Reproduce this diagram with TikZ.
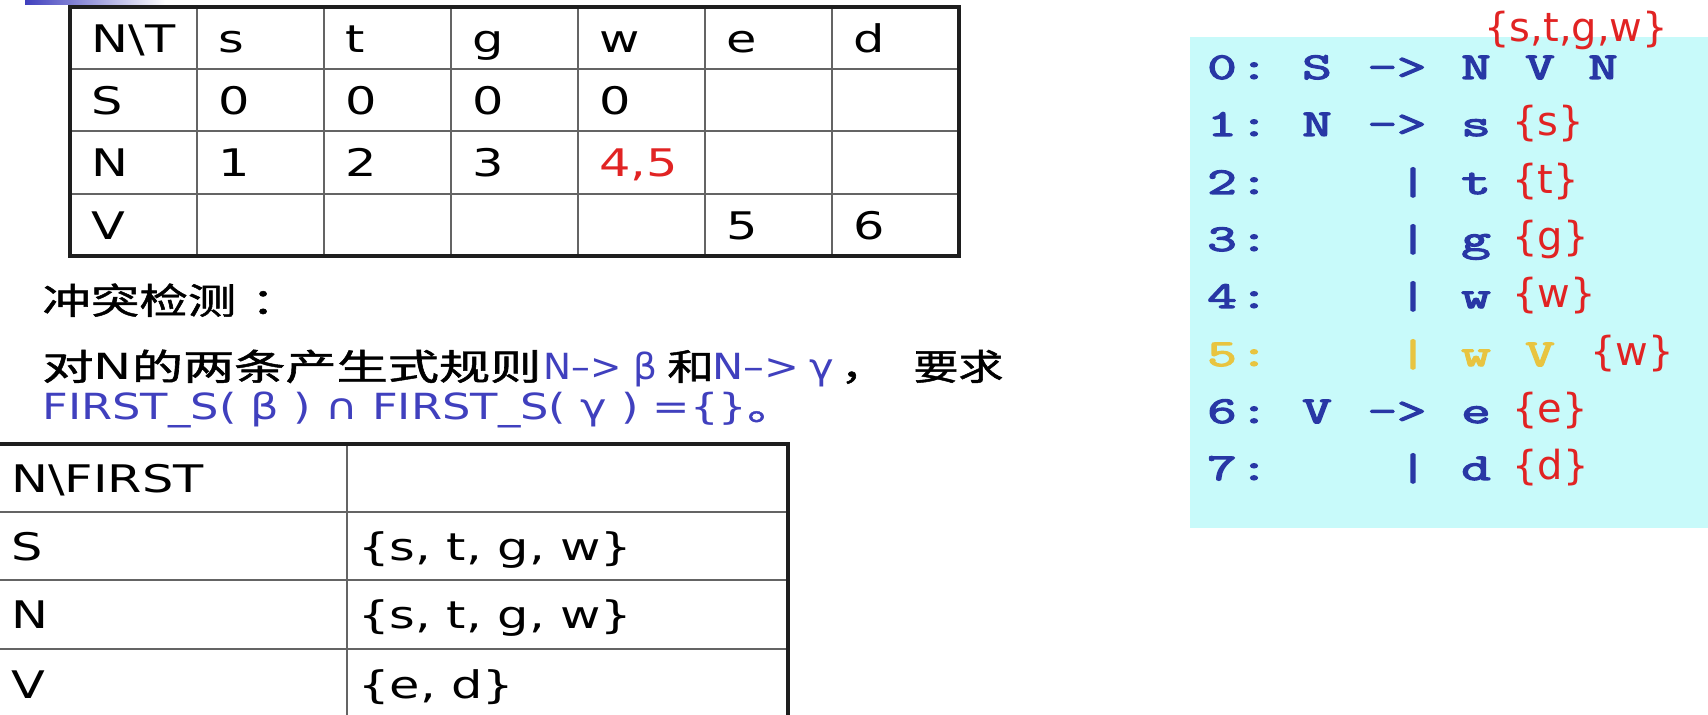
\documentclass[tikz,border=0pt]{standalone}
\usepackage{fontspec}
\setmainfont{DejaVu Sans}
\newfontfamily\cjk{Noto Sans CJK SC}[FakeBold=1.2]
\newfontfamily\codefont{Latin Modern Mono}[FakeBold=3]
\definecolor{tblue}{RGB}{64,64,190}
\definecolor{cblue}{RGB}{40,55,165}
\definecolor{cyel}{RGB}{232,196,64}
\definecolor{cred}{RGB}{225,35,35}
\definecolor{panelc}{RGB}{200,250,250}
\definecolor{innerc}{RGB}{100,100,100}
\definecolor{outerc}{RGB}{30,30,30}
\newcommand\hs[1]{\scalebox{1.3}[1]{#1}}
\newcommand\cs[1]{\scalebox{1.5}[1]{#1}}
\begin{document}
\begin{tikzpicture}[x=0.5pt,y=-0.5pt,
  cell/.style={anchor=base west,inner sep=0pt,font=\fontsize{19}{22}\selectfont},
  code/.style={anchor=base,inner sep=0pt,text=cblue,font=\codefont\fontsize{19}{22}\selectfont},
  ycode/.style={code,text=cyel},
  rset/.style={anchor=base west,inner sep=0pt,text=cred,font=\fontsize{20}{24}\selectfont},
  txt/.style={anchor=base west,inner sep=0pt,font=\fontsize{18}{22}\selectfont},
  inl/.style={innerc,line width=1pt},
  outl/.style={outerc,line width=1.6pt}]
\useasboundingbox (0,0) rectangle (1708,715);
\fill[white] (0,0) rectangle (1708,715);
% top-left decoration
\shade[left color=tblue,right color=white] (25,0) rectangle (165,5);
% ---------- top table ----------
\foreach \x in {197,324,451,578,705,832} \draw[inl] (\x,7) -- (\x,256);
\foreach \y in {69,131,194} \draw[inl] (70,\y) -- (959,\y);
\draw[outl] (70,7) rectangle (959,256);
\node[cell] (h0) at (91,53) {\hs{N\textbackslash T}};
\node[cell] (h1) at (218,53) {\hs{s}};
\node[cell] (h2) at (345,53) {\hs{t}};
\node[cell] (h3) at (472,53) {\hs{g}};
\node[cell] (h4) at (599,53) {\hs{w}};
\node[cell] (h5) at (726,53) {\hs{e}};
\node[cell] (h6) at (853,53) {\hs{d}};
\node[cell] (s0) at (91,115) {\hs{S}};
\node[cell] (s1) at (218,115) {\hs{0}};
\node[cell] (s2) at (345,115) {\hs{0}};
\node[cell] (s3) at (472,115) {\hs{0}};
\node[cell] (s4) at (599,115) {\hs{0}};
\node[cell] (n0) at (91,177) {\hs{N}};
\node[cell] (n1) at (218,177) {\hs{1}};
\node[cell] (n2) at (345,177) {\hs{2}};
\node[cell] (n3) at (472,177) {\hs{3}};
\node[cell,text=cred] (n4) at (599,177) {\hs{4,5}};
\node[cell] (v0) at (91,240) {\hs{V}};
\node[cell] (v5) at (726,240) {\hs{5}};
\node[cell] (v6) at (853,240) {\hs{6}};
% ---------- text lines ----------
\node[txt] (head) at (42,314) {\resizebox{97pt}{\height}{\cjk 冲突检测}};
\node[txt] (headc) at (251,314) {\hs{\cjk ：}};
\node[txt] (l2a) at (42,380) {\resizebox{249.5pt}{\height}{{\cjk 对}N{\cjk 的两条产生式规则}}};
\node[txt,text=tblue] (l2b) at (543,380) {\resizebox{57pt}{\height}{N–> β}};
\node[txt] (l2c) at (667,380) {\hs{\cjk 和}};
\node[txt,text=tblue] (l2d) at (712,380) {\resizebox{61pt}{\height}{N–>\hspace{0.25em}γ}};
\node[txt] (l2e) at (840,380) {\hs{\cjk ，}};
\node[txt] (l2f) at (913,380) {\resizebox{45pt}{\height}{\cjk 要求}};
\node[txt,text=tblue] (line3) at (42,420) {\resizebox{352.5pt}{\height}{FIRST\_S( β ) ∩ FIRST\_S( γ ) =\{\}}};
\node[txt,text=tblue] (line3e) at (747,420) {\hs{\cjk 。}};
% ---------- bottom table ----------
\draw[inl] (347,444) -- (347,717);
\foreach \y in {512,580,649} \draw[inl] (-5,\y) -- (788,\y);
\draw[outl] (-5,444) rectangle (788,717);
\node[cell] (b0) at (11,493) {\hs{N\textbackslash FIRST}};
\node[cell] (b1) at (11,561) {\hs{S}};
\node[cell] (b1v) at (358,561) {\hs{\{s, t, g, w\}}};
\node[cell] (b2) at (11,629) {\hs{N}};
\node[cell] (b2v) at (358,629) {\hs{\{s, t, g, w\}}};
\node[cell] (b3) at (11,698) {\hs{V}};
\node[cell] (b3v) at (358,698) {\hs{\{e, d\}}};
% ---------- grammar panel ----------
\fill[panelc] (1190,37) rectangle (1708,528);
% line 0
\node[code] (d0) at (1222,79) {\cs{0}};
\node[code] (k0) at (1254,79) {\cs{:}};
\node[code] (l0) at (1317,79) {\cs{S}};
\node[code] (a0) at (1397,79) {\cs{->}};
\node[code] (p0a) at (1476,79) {\cs{N}};
\node[code] (p0b) at (1540,79) {\cs{V}};
\node[code] (p0c) at (1603,79) {\cs{N}};
\node[rset] (f0) at (1484,42) {\{s,t,g,w\}};
% line 1
\node[code] (d1) at (1222,136) {\cs{1}};
\node[code] (k1) at (1254,136) {\cs{:}};
\node[code] (l1) at (1317,136) {\cs{N}};
\node[code] (a1) at (1397,136) {\cs{->}};
\node[code] (p1) at (1476,136) {\cs{s}};
\node[rset] (f1) at (1512,136) {\{s\}};
% line 2
\node[code] (d2) at (1222,194) {\cs{2}};
\node[code] (k2) at (1254,194) {\cs{:}};
\node[code] (b2b) at (1413,194) {\cs{|}};
\node[code] (p2) at (1476,194) {\cs{t}};
\node[rset] (f2) at (1512,194) {\{t\}};
% line 3
\node[code] (d3) at (1222,251) {\cs{3}};
\node[code] (k3) at (1254,251) {\cs{:}};
\node[code] (b3b) at (1413,251) {\cs{|}};
\node[code] (p3) at (1476,251) {\cs{g}};
\node[rset] (f3) at (1512,251) {\{g\}};
% line 4
\node[code] (d4) at (1222,308) {\cs{4}};
\node[code] (k4) at (1254,308) {\cs{:}};
\node[code] (b4b) at (1413,308) {\cs{|}};
\node[code] (p4) at (1476,308) {\cs{w}};
\node[rset] (f4) at (1512,308) {\{w\}};
% line 5
\node[ycode] (d5) at (1222,366) {\cs{5}};
\node[ycode] (k5) at (1254,366) {\cs{:}};
\node[ycode] (b5b) at (1413,366) {\cs{|}};
\node[ycode] (p5a) at (1476,366) {\cs{w}};
\node[ycode] (p5b) at (1540,366) {\cs{V}};
\node[rset] (f5) at (1590,366) {\{w\}};
% line 6
\node[code] (d6) at (1222,423) {\cs{6}};
\node[code] (k6) at (1254,423) {\cs{:}};
\node[code] (l6) at (1317,423) {\cs{V}};
\node[code] (a6) at (1397,423) {\cs{->}};
\node[code] (p6) at (1476,423) {\cs{e}};
\node[rset] (f6) at (1512,423) {\{e\}};
% line 7
\node[code] (d7) at (1222,480) {\cs{7}};
\node[code] (k7) at (1254,480) {\cs{:}};
\node[code] (b7b) at (1413,480) {\cs{|}};
\node[code] (p7) at (1476,480) {\cs{d}};
\node[rset] (f7) at (1512,480) {\{d\}};
\end{tikzpicture}
\end{document}
